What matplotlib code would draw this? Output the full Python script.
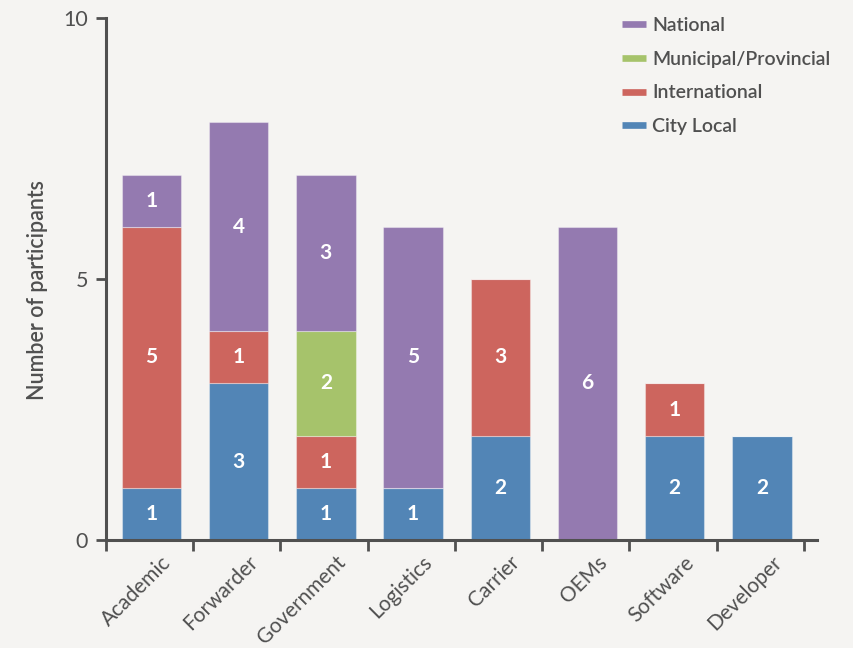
import matplotlib.pyplot as plt
from matplotlib.lines import Line2D
from matplotlib.transforms import ScaledTranslation
import numpy as np

categories = ["Academic", "Forwarder", "Government", "Logistics", "Carrier", "OEMs", "Software", "Developer"]
city_local = [1, 3, 1, 1, 2, 0, 2, 2]
international = [5, 1, 1, 0, 3, 0, 1, 0]
municipal = [0, 0, 2, 0, 0, 0, 0, 0]
national = [1, 4, 3, 5, 0, 6, 0, 0]

series = [
    ("City Local", city_local, "#5285b6"),
    ("International", international, "#cd655e"),
    ("Municipal/Provincial", municipal, "#a6c36b"),
    ("National", national, "#947ab0"),
]

plt.rcParams['font.family'] = ['Lato', 'DejaVu Sans']
bg = "#f5f4f2"
ink = "#505050"

fig = plt.figure(figsize=(8.54, 6.48), dpi=100, facecolor=bg)
ax = fig.add_axes([106 / 854, 1 - 540 / 648, (817 - 106) / 854, (540 - 18) / 648])
ax.set_facecolor(bg)

x = np.arange(len(categories)) + 0.02
bottom = np.zeros(len(categories))
for name, vals, color in series:
    vals = np.array(vals, dtype=float)
    ax.bar(x, vals, width=0.68, bottom=bottom, color=color,
           edgecolor=(1, 1, 1, 0.35), linewidth=0.8, label=name)
    for xi, b, v in zip(x, bottom, vals):
        if v > 0:
            ax.text(xi, b + v / 2, f"{int(v)}", ha="center", va="center",
                    color="white", fontsize=15, fontweight="bold")
    bottom += vals

ax.set_xlim(-0.5, 7.65)
ax.set_ylim(0, 10)
ax.set_yticks([0, 5, 10])
ax.set_yticklabels(["0", "5", "10"])
ax.tick_params(axis="y", length=7, width=2, color=ink, labelcolor=ink,
               labelsize=15.5, pad=6)

ax.set_xticks(np.arange(len(categories)))
ax.set_xticklabels(categories, rotation=45, ha="right", va="center",
                   rotation_mode="anchor", fontsize=15, color=ink)
ax.tick_params(axis="x", length=0, pad=14)
shift = ScaledTranslation(13 / 72, 0, fig.dpi_scale_trans)
for lbl in ax.get_xticklabels():
    lbl.set_transform(lbl.get_transform() + shift)
ax.set_xticks(np.arange(len(categories) + 1) - 0.5, minor=True)
ax.tick_params(axis="x", which="minor", length=8, width=2, color=ink,
               direction="out")

for side in ("top", "right"):
    ax.spines[side].set_visible(False)
for side in ("left", "bottom"):
    ax.spines[side].set_linewidth(2.2)
    ax.spines[side].set_color(ink)

ax.set_ylabel("Number of participants", fontsize=15.5, color=ink,
              fontweight="semibold", labelpad=11)
ax.yaxis.label.set_y(0.479)

handles = [Line2D([0], [0], color=c, lw=4.8, solid_capstyle="butt")
           for _, _, c in reversed(series)]
labels = [n for n, _, _ in reversed(series)]
leg = fig.legend(handles, labels, loc="upper left",
                 bbox_to_anchor=(622 / 854, 1 - 17 / 648),
                 frameon=False, fontsize=14, handlelength=1.23,
                 handletextpad=0.32, labelspacing=0.86,
                 borderpad=0, borderaxespad=0)
for t in leg.get_texts():
    t.set_color(ink)
    t.set_fontweight("semibold")

fig.savefig("out.png", dpi=100, facecolor=bg)
